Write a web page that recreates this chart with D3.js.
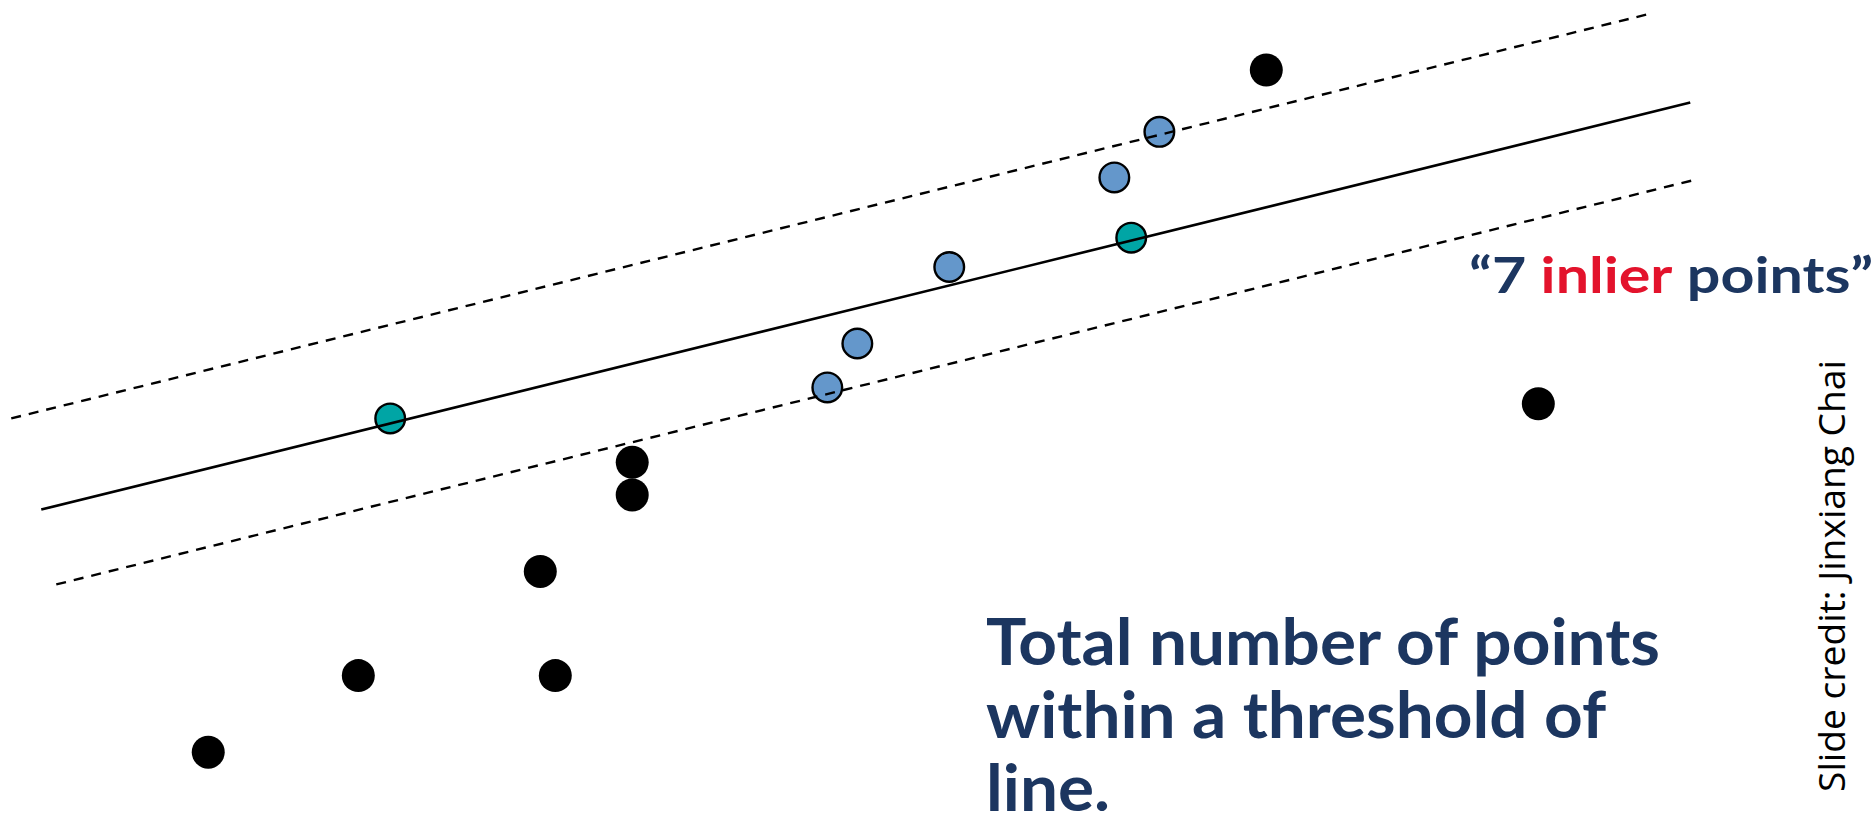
<!DOCTYPE html>
<html>
<head>
<meta charset="utf-8">
<script src="https://cdn.jsdelivr.net/npm/d3@7"></script>
<style>
  html, body { margin: 0; padding: 0; background: #ffffff; }
  svg { display: block; }
</style>
</head>
<body>
<svg id="chart" width="1876" height="814"></svg>
<script>
// ---- data (abstract units: x 0..100, y 0..50) ----
const outlierX = [67.5, 82.0, 33.7, 33.7, 28.8, 19.1, 29.6, 11.1];
const outlierY = [45.7, 25.2, 21.6, 19.6, 14.9, 8.5, 8.5, 3.8];

const inlierX = [61.8, 59.4, 50.6, 45.7, 44.1];
const inlierY = [41.9, 39.1, 33.6, 28.9, 26.2];

const sampleX = [20.8, 60.3];
const sampleY = [24.3, 35.4];

const fitLineX = [2.2, 90.1];
const fitLineY = [18.7, 43.7];
const upperBandX = [0.6, 88.1];
const upperBandY = [24.3, 49.2];
const lowerBandX = [3.0, 90.5];
const lowerBandY = [14.1, 39.0];

const labelParts = ["\u201C7 ", "inlier", " points\u201D"];
const captionLines = ["Total number of points", "within a threshold of", "line."];
const creditText = "Slide credit:  Jinxiang Chai";

// ---- layout ----
const W = 1876, H = 814;
const svg = d3.select("#chart");
const x = d3.scaleLinear().domain([0, 100]).range([0, W]);
const y = d3.scaleLinear().domain([0, 50]).range([H, 0]);

const navy = "#1c3660";
const red = "#e3132c";

// points first (lines are drawn over them in the reference)
const outliers = outlierX.map((v, i) => ({ x: v, y: outlierY[i] }));
const inliers = inlierX.map((v, i) => ({ x: v, y: inlierY[i] }));
const samples = sampleX.map((v, i) => ({ x: v, y: sampleY[i] }));

svg.append("g").selectAll("circle").data(outliers).join("circle")
  .attr("cx", d => x(d.x)).attr("cy", d => y(d.y)).attr("r", 16.5)
  .attr("fill", "#000");

svg.append("g").selectAll("circle").data(inliers).join("circle")
  .attr("cx", d => x(d.x)).attr("cy", d => y(d.y)).attr("r", 14.8)
  .attr("fill", "#6497cb").attr("stroke", "#000").attr("stroke-width", 2.4);

svg.append("g").selectAll("circle").data(samples).join("circle")
  .attr("cx", d => x(d.x)).attr("cy", d => y(d.y)).attr("r", 14.8)
  .attr("fill", "#00a5a5").attr("stroke", "#000").attr("stroke-width", 2.4);

const line = d3.line().x(d => x(d[0])).y(d => y(d[1]));
function seg(xs, ys) { return xs.map((v, i) => [v, ys[i]]); }

svg.append("path").attr("d", line(seg(fitLineX, fitLineY)))
  .attr("stroke", "#000").attr("stroke-width", 2.6).attr("fill", "none");
svg.append("path").attr("d", line(seg(upperBandX, upperBandY)))
  .attr("stroke", "#000").attr("stroke-width", 2.4).attr("fill", "none")
  .attr("stroke-dasharray", "10,8");
svg.append("path").attr("d", line(seg(lowerBandX, lowerBandY)))
  .attr("stroke", "#000").attr("stroke-width", 2.4).attr("fill", "none")
  .attr("stroke-dasharray", "10,8");

// label "7 inlier points"
const lbl = svg.append("text")
  .attr("font-family", "Lato, 'Open Sans', sans-serif")
  .attr("font-weight", 700).attr("font-size", 50).attr("fill", navy);
lbl.selectAll("tspan").data(labelParts).join("tspan")
  .text(d => d).attr("fill", (d, i) => i === 1 ? red : navy);
const lw = lbl.node().getComputedTextLength();
lbl.attr("transform", `translate(1469,293) scale(${403 / lw},1)`);

// caption: one common horizontal scale from the first line
const capTexts = captionLines.map((t, i) => svg.append("text")
  .attr("font-family", "Lato, 'Open Sans', sans-serif")
  .attr("font-weight", 700).attr("font-size", 65).attr("fill", navy)
  .text(t));
const capScale = 674 / capTexts[0].node().getComputedTextLength();
capTexts.forEach((tx, i) => {
  tx.attr("transform", `translate(986,${665 + i * 73}) scale(${capScale},1)`);
});

// credit (rotated)
const cr = svg.append("text")
  .attr("font-family", "'Open Sans', sans-serif")
  .attr("font-size", 37).attr("fill", "#000")
  .text(creditText);
const cw = cr.node().getComputedTextLength();
cr.attr("transform", `translate(1845,792) rotate(-90) scale(${432 / cw},1)`);
</script>
</body>
</html>
